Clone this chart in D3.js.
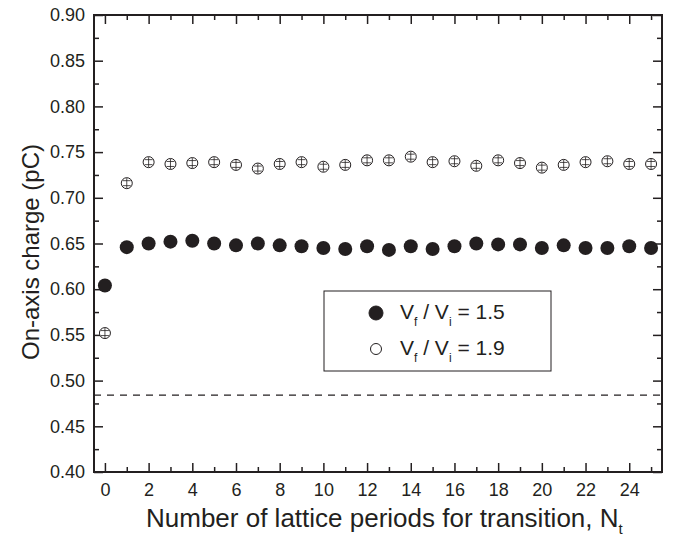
<!DOCTYPE html>
<html>
<head>
<meta charset="utf-8">
<script src="https://cdn.jsdelivr.net/npm/d3@7"></script>
<style>
  body { margin: 0; background: #fff; }
  svg { display: block; font-family: "Liberation Sans", Arial, sans-serif; }
</style>
</head>
<body>
<svg id="chart" width="677" height="542"></svg>
<script>
// data
const nt = [0, 1, 2, 3, 4, 5, 6, 7, 8, 9, 10, 11, 12, 13, 14, 15, 16, 17, 18, 19, 20, 21, 22, 23, 24, 25];
const ratio15 = [0.604, 0.646, 0.650, 0.652, 0.653, 0.650, 0.648, 0.650, 0.648, 0.647, 0.645, 0.644, 0.647, 0.643,
                 0.647, 0.644, 0.647, 0.650, 0.649, 0.649, 0.645, 0.648, 0.645, 0.645, 0.647, 0.645];
const ratio19 = [0.552, 0.716, 0.739, 0.737, 0.738, 0.739, 0.736, 0.732, 0.737, 0.739, 0.734, 0.736, 0.741, 0.741,
                 0.745, 0.739, 0.740, 0.735, 0.741, 0.738, 0.733, 0.736, 0.739, 0.740, 0.737, 0.737];
const refLevel = 0.484;
const xTicks = [0, 2, 4, 6, 8, 10, 12, 14, 16, 18, 20, 22, 24];
const xMinor = [1, 3, 5, 7, 9, 11, 13, 15, 17, 19, 21, 23, 25];
const yTicks = [0.40, 0.45, 0.50, 0.55, 0.60, 0.65, 0.70, 0.75, 0.80, 0.85, 0.90];
const yMinor = [0.425, 0.475, 0.525, 0.575, 0.625, 0.675, 0.725, 0.775, 0.825, 0.875];

const ink = "#231f20";
const svg = d3.select("#chart");
const mLeft = 94, mRight = 662, mTop = 15, mBottom = 472;

const x = d3.scaleLinear().domain([-0.5, 25.5]).range([mLeft, mRight]);
const y = d3.scaleLinear().domain([0.40, 0.90]).range([mBottom, mTop]);

// axes with inward ticks on all four sides
function tickAxis(axis, tr, vals, len, labels) {
    const g = svg.append("g").attr("transform", tr)
        .call(axis.tickValues(vals).tickSizeInner(len).tickSizeOuter(0).tickFormat(labels ? null : ""));
    g.select(".domain").remove();
    g.selectAll(".tick line").attr("stroke", ink).attr("stroke-width", 1.5);
    return g;
}

const gx = tickAxis(d3.axisTop(x), `translate(0,${mBottom})`, xTicks, 9, true);
gx.selectAll(".tick text").attr("y", 11).attr("dy", "0.71em").attr("font-size", 18).attr("fill", ink);
tickAxis(d3.axisTop(x), `translate(0,${mBottom})`, xMinor, 5, false);
tickAxis(d3.axisBottom(x), `translate(0,${mTop})`, xTicks, 9, false);
tickAxis(d3.axisBottom(x), `translate(0,${mTop})`, xMinor, 5, false);

const gy = tickAxis(d3.axisRight(y), `translate(${mLeft},0)`, yTicks, 9, true);
gy.selectAll(".tick text").attr("x", -9).attr("text-anchor", "end").attr("font-size", 18).attr("fill", ink)
    .text(d => d3.format(".2f")(d));
tickAxis(d3.axisRight(y), `translate(${mLeft},0)`, yMinor, 5, false);
tickAxis(d3.axisLeft(y), `translate(${mRight},0)`, yTicks, 9, false);
tickAxis(d3.axisLeft(y), `translate(${mRight},0)`, yMinor, 5, false);

svg.append("rect")
    .attr("x", mLeft).attr("y", mTop)
    .attr("width", mRight - mLeft).attr("height", mBottom - mTop)
    .attr("fill", "none").attr("stroke", ink).attr("stroke-width", 2);

// dashed reference line
svg.append("line")
    .attr("x1", x(-0.5)).attr("x2", x(25.5))
    .attr("y1", y(refLevel)).attr("y2", y(refLevel))
    .attr("stroke", ink).attr("stroke-width", 1.3).attr("stroke-dasharray", "7,6");

// open markers (with tiny error bars inside)
const open = svg.append("g").selectAll("g").data(nt).join("g")
    .attr("transform", (d, i) => `translate(${x(d)},${y(ratio19[i])})`);
open.append("circle").attr("r", 5.5).attr("fill", "#fff").attr("stroke", ink).attr("stroke-width", 1);
open.append("path").attr("d", "M0,-5V5M-4,-2.5H4M-4,2.5H4").attr("stroke", ink).attr("stroke-width", 0.8);

// filled markers
svg.append("g").selectAll("circle").data(nt).join("circle")
    .attr("cx", d => x(d))
    .attr("cy", (d, i) => y(ratio15[i]))
    .attr("r", 7)
    .attr("fill", ink);

// legend
const lg = svg.append("g");
lg.append("rect").attr("x", 324).attr("y", 291).attr("width", 227).attr("height", 80)
    .attr("fill", "#fff").attr("stroke", ink).attr("stroke-width", 1);
const legendItems = [{ v: "1.5", filled: true }, { v: "1.9", filled: false }];
legendItems.forEach((it, i) => {
    const cy = 313 + i * 36;
    lg.append("circle").attr("cx", 376).attr("cy", cy).attr("r", it.filled ? 7 : 5.5)
        .attr("fill", it.filled ? ink : "#fff").attr("stroke", ink).attr("stroke-width", 1);
    const t = lg.append("text").attr("x", 400).attr("y", cy + 6).attr("font-size", 21).attr("fill", ink);
    t.append("tspan").text("V");
    t.append("tspan").attr("font-size", 12).attr("dy", 7).text("f");
    t.append("tspan").attr("dy", -7).text(" / V");
    t.append("tspan").attr("font-size", 12).attr("dy", 7).text("i");
    t.append("tspan").attr("dy", -7).text(" = " + it.v);
});

// axis titles
svg.append("text")
    .attr("transform", `translate(39,252) rotate(-90)`)
    .attr("text-anchor", "middle").attr("font-size", 24).attr("fill", ink)
    .text("On-axis charge (pC)");

const xt = svg.append("text")
    .attr("x", 146).attr("y", 527)
    .attr("font-size", 26).attr("fill", ink);
xt.append("tspan").text("Number of lattice periods for transition, N");
xt.append("tspan").attr("font-size", 15).attr("dy", 7).text("t");
</script>
</body>
</html>
